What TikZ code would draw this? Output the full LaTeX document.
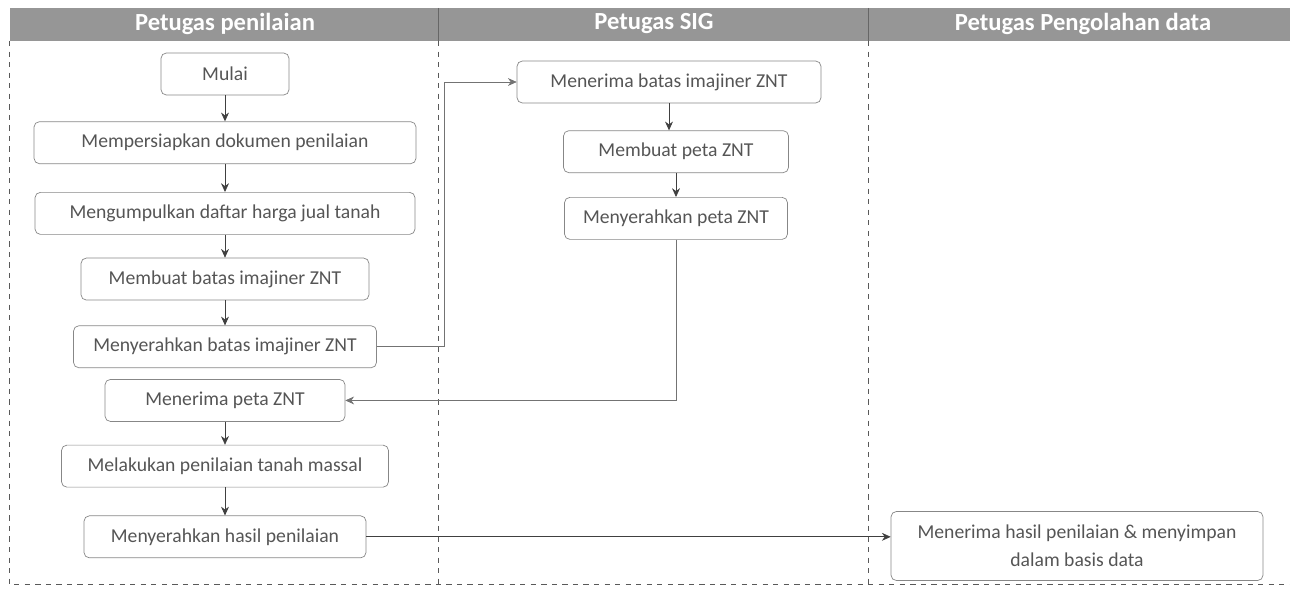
\documentclass[tikz,border=0pt]{standalone}
\usepackage{fontspec}
\setmainfont{Carlito}
\usetikzlibrary{positioning, arrows.meta}
\definecolor{headgray}{RGB}{150,150,150}
\definecolor{boxline}{RGB}{135,135,135}
\definecolor{textgray}{RGB}{85,85,85}

\begin{document}
\begin{tikzpicture}[
    x=0.02cm, y=-0.02cm,
    node distance=0.52cm,
    box/.style={rectangle, draw=boxline, rounded corners=3pt, minimum height=0.84cm, align=center, text=textgray, font=\fontsize{11.2}{16}\selectfont},
    arrow/.style={-{Stealth[length=5pt,width=4.5pt]}, draw=black!75, thin},
    link/.style={-{Stealth[length=5pt,width=4.5pt]}, draw=black!55, thin},
    lane/.style={draw=black!65, dashed, very thin},
    head/.style={font=\bfseries\fontsize{14}{16}\selectfont, text=white}
]
    \useasboundingbox (0,0) rectangle (1290,591);

    % Header
    \fill[headgray] (10,8) rectangle (1290,41);
    \node[head] (hnilai) at (225,24) {Petugas penilaian};
    \node[head] (hsig) at (654,24) {Petugas SIG};
    \node[head] (hdata) at (1083,24) {Petugas Pengolahan data};

    % Lanes
    \draw[lane] (9,41) -- (9,584) -- (1290,584);
    \draw[lane] (438,41) -- (438,584);
    \draw[lane] (868,41) -- (868,584);
    \draw[black!60] (438,8) -- (438,41);
    \draw[black!60] (868,8) -- (868,41);

    % Nodes: Petugas penilaian
    \node[box, minimum width=2.56cm] (mulai) at (225,74) {Mulai};
    \node[box, minimum width=7.64cm, below=0.52cm of mulai] (siap) {Mempersiapkan dokumen penilaian};
    \node[box, minimum width=7.6cm, below=0.56cm of siap] (kumpul) {Mengumpulkan daftar harga jual tanah};
    \node[box, minimum width=5.76cm, below=0.46cm of kumpul] (batas) {Membuat batas imajiner ZNT};
    \node[box, minimum width=6.06cm, below=0.5cm of batas] (serahbatas) {Menyerahkan batas imajiner ZNT};
    \node[box, minimum width=4.8cm, below=0.22cm of serahbatas] (terimapeta) {Menerima peta ZNT};
    \node[box, minimum width=6.54cm, below=0.46cm of terimapeta] (lakukan) {Melakukan penilaian tanah massal};
    \node[box, minimum width=5.64cm, below=0.56cm of lakukan] (serahhasil) {Menyerahkan hasil penilaian};

    % Nodes: Petugas SIG
    \node[box, minimum width=6.08cm] (terimabatas) at (669,82) {Menerima batas imajiner ZNT};
    \node[box, minimum width=4.5cm, below=0.54cm of terimabatas, xshift=0.14cm] (buatpeta) {Membuat peta ZNT};
    \node[box, minimum width=4.46cm, below=0.48cm of buatpeta] (serahpeta) {Menyerahkan peta ZNT};

    % Nodes: Petugas Pengolahan data
    \node[box, minimum width=7.44cm, minimum height=1.38cm] (terimahasil) at (1077,546) {Menerima hasil penilaian \& menyimpan\\dalam basis data};

    % Arrows
    \draw[arrow] (mulai) -- (siap);
    \draw[arrow] (siap) -- (kumpul);
    \draw[arrow] (kumpul) -- (batas);
    \draw[arrow] (batas) -- (serahbatas);
    \draw[arrow] (terimapeta) -- (lakukan);
    \draw[arrow] (lakukan) -- (serahhasil);
    \draw[arrow] (terimabatas) -- (terimabatas.south |- buatpeta.north);
    \draw[arrow] (buatpeta) -- (serahpeta);

    % Between lanes
    \coordinate (bend) at (444,0);
    \draw[link] (serahbatas.east) -- (serahbatas.east -| bend) |- (terimabatas.west);
    \draw[link] (serahpeta.south) |- (terimapeta.east);
    \draw[arrow] (serahhasil.east) -- (serahhasil.east -| terimahasil.west);
\end{tikzpicture}
\end{document}
